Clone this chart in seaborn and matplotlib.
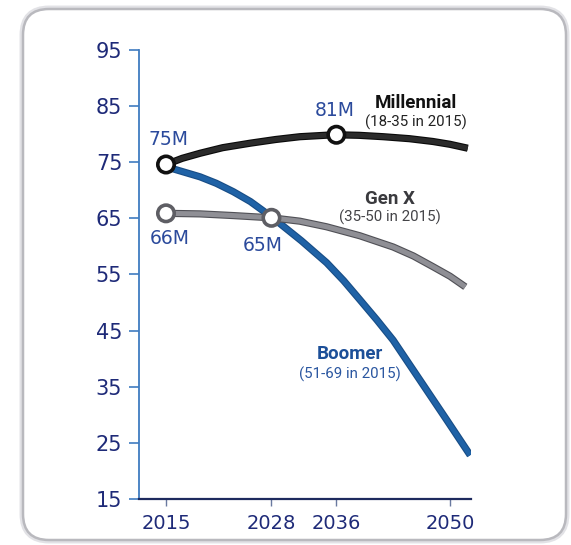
import matplotlib
matplotlib.use("Agg")
import matplotlib.pyplot as plt
import matplotlib.patheffects as pe
from matplotlib.patches import FancyBboxPatch
import seaborn as sns
import pandas as pd

# ---- data ----
millennial_years = [2015, 2017.0, 2019.2, 2022.0, 2025.4, 2028.5, 2031.5, 2035.8, 2038.8, 2041.8, 2045.0, 2047.9, 2050.0, 2052.2]
millennial_vals = [74.6, 75.7, 76.6, 77.6, 78.4, 79.05, 79.55, 79.9, 79.8, 79.55, 79.2, 78.7, 78.2, 77.5]

genx_years = [2015, 2019.2, 2023.3, 2028, 2031.5, 2034.8, 2038.9, 2043.0, 2045.5, 2047.9, 2050.0, 2051.9]
genx_vals = [65.9, 65.8, 65.5, 65.1, 64.5, 63.5, 61.9, 59.9, 58.3, 56.4, 54.7, 52.8]

boomer_years = [2015, 2017.1, 2019.2, 2021.2, 2023.3, 2025.4, 2027.4, 2028.6, 2031.7, 2034.8, 2036.9, 2038.9, 2041.0, 2043.0, 2046.3, 2049.6, 2052.5]
boomer_vals = [74.2, 73.3, 72.4, 71.25, 69.75, 68.0, 65.9, 64.6, 61.0, 57.1, 53.9, 50.5, 46.9, 43.3, 36.2, 29.1, 22.8]

marker_years = [2015, 2036, 2015, 2028]
marker_vals = [74.6, 79.9, 65.9, 65.1]
marker_series = ["Millennial", "Millennial", "Gen X", "Gen X"]
marker_labels = ["75M", "81M", "66M", "65M"]

series_names = ["Boomer", "Gen X", "Millennial"]
series_sub = ["(51-69 in 2015)", "(35-50 in 2015)", "(18-35 in 2015)"]

x_ticks = [2015, 2028, 2036, 2050]
y_ticks = [15, 25, 35, 45, 55, 65, 75, 85, 95]

df = pd.DataFrame({
    "year": boomer_years + genx_years + millennial_years,
    "value": boomer_vals + genx_vals + millennial_vals,
    "generation": (["Boomer"] * len(boomer_years) + ["Gen X"] * len(genx_years)
                   + ["Millennial"] * len(millennial_years)),
})
mdf = pd.DataFrame({"year": marker_years, "value": marker_vals, "generation": marker_series})

# ---- style ----
sns.set_style("white")
plt.rcParams["font.family"] = ["DejaVu Sans"]

core = {"Boomer": "#1f62a6", "Gen X": "#8f8f95", "Millennial": "#2b2b2b"}
edge = {"Boomer": "#184d86", "Gen X": "#505056", "Millennial": "#0a0a0a"}
label_col = {"Boomer": "#1c4f98", "Gen X": "#3a3a3e", "Millennial": "#111111"}
sub_col = {"Boomer": "#2a56a0", "Gen X": "#444448", "Millennial": "#222222"}

fig = plt.figure(figsize=(5.71, 5.45), dpi=100)

# rounded frame in pixel coordinates
bg = fig.add_axes([0, 0, 1, 1], zorder=-1)
bg.set_xlim(0, 571)
bg.set_ylim(545, 0)
bg.axis("off")
bg.add_patch(FancyBboxPatch((23, 9), 543, 531, boxstyle="round,pad=0,rounding_size=26",
                            fc="none", ec="#e2e2e6", lw=5))
bg.add_patch(FancyBboxPatch((23, 9), 543, 531, boxstyle="round,pad=0,rounding_size=26",
                            fc="white", ec="#b9b9be", lw=1.8))

ax = fig.add_axes([139 / 571, 1 - 499 / 545, 332 / 571, 449 / 545])
ax.set_facecolor("none")

sns.lineplot(data=df, x="year", y="value", hue="generation", hue_order=series_names,
             palette=core, linewidth=3.6, legend=False, ax=ax, sort=False)
for line, name in zip(ax.lines, series_names):
    line.set_solid_capstyle("butt")
    line.set_solid_joinstyle("round")
    line.set_path_effects([pe.Stroke(linewidth=5.2, foreground=edge[name]), pe.Normal()])

sns.scatterplot(data=mdf, x="year", y="value", hue="generation",
                palette={"Millennial": "#111111", "Gen X": "#5e5e64"},
                s=140, linewidth=2.6, legend=False, ax=ax, zorder=5)
coll = ax.collections[-1]
coll.set_facecolor("white")
coll.set_edgecolor(["#111111" if s == "Millennial" else "#5e5e64" for s in marker_series])

ax.set_xlim(2011.67, 2052.6)
ax.set_ylim(15, 95)
ax.set_xticks(x_ticks)
ax.set_yticks(y_ticks)
ax.set_xlabel("")
ax.set_ylabel("")

for s in ["top", "right"]:
    ax.spines[s].set_visible(False)
ax.spines["left"].set_color("#3f7cc0")
ax.spines["left"].set_linewidth(1.3)
ax.spines["bottom"].set_color("#1d2a5e")
ax.spines["bottom"].set_linewidth(1.6)

ax.tick_params(axis="y", direction="out", length=7, width=1.2, color="#3f7cc0",
               labelsize=15, labelcolor="#1e2a78", pad=5, left=True)
ax.tick_params(axis="x", direction="out", length=5, width=1.0, color="#6a7aa0",
               labelsize=14, labelcolor="#1e2a78", pad=6, bottom=True)

# value labels
val_pos = [(2015.25, 79.0), (2035.8, 84.3), (2015.4, 61.5), (2026.95, 60.25)]
for (x, y), t in zip(val_pos, marker_labels):
    ax.text(x, y, t, ha="center", va="center", fontsize=13.5, color="#2b4a9c")

# series labels
name_pos = {"Millennial": (2045.8, 85.55), "Gen X": (2042.6, 68.45), "Boomer": (2037.7, 40.85)}
sub_pos = {"Millennial": (2045.8, 82.2), "Gen X": (2042.6, 65.1), "Boomer": (2037.7, 37.3)}
for name, sub in zip(series_names, series_sub):
    ax.text(*name_pos[name], name, ha="center", va="center", fontsize=13.5,
            fontweight="bold", color=label_col[name], family=["Roboto", "DejaVu Sans"])
    ax.text(*sub_pos[name], sub, ha="center", va="center", fontsize=10.8,
            color=sub_col[name], family=["Roboto", "DejaVu Sans"])

fig.savefig("out.png", dpi=100)
